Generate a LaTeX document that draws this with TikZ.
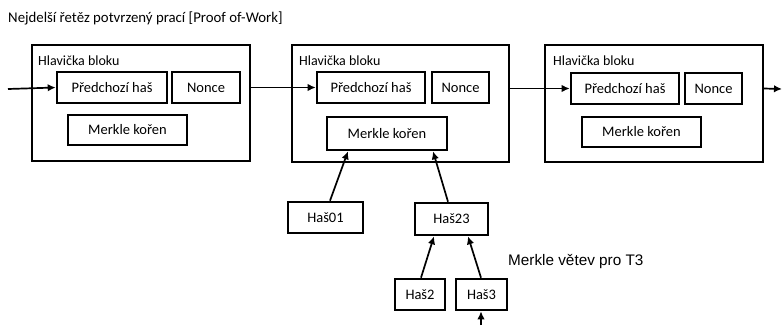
\documentclass[tikz,border=0pt]{standalone}
\usepackage{fontspec}
\setmainfont{Carlito}
\newfontfamily\arialf{Liberation Sans}
\usetikzlibrary{arrows.meta}
\begin{document}
\begin{tikzpicture}[x=1pt,y=-1pt,
  outer/.style={draw, line width=2pt, inner sep=0pt},
  inbox/.style={draw, line width=2.6pt, inner sep=0pt, minimum height=31pt, font=\fontsize{14.5}{17}\selectfont},
  lbl/.style={anchor=west, inner sep=0pt, font=\fontsize{14}{16}\selectfont},
  arr/.style={line width=1.7pt, -{Latex[length=8pt,width=7.5pt]}},
  conn/.style={line width=1.7pt},
]
\useasboundingbox (0,0) rectangle (782,325);

\node[lbl, font=\fontsize{14.8}{17}\selectfont] (title) at (8,18) {Nejdelší řetěz potvrzený prací [Proof of-Work]};

% block 1
\node[outer, minimum width=218pt, minimum height=116pt] (b1) at (141,103) {};
\node[lbl] (l1) at (38,61) {Hlavička bloku};
\node[inbox, minimum width=110pt] (p1) at (112,87.5) {Předchozí haš};
\node[inbox, minimum width=68pt] (n1) at (206,87.5) {Nonce};
\node[inbox, minimum width=119pt, minimum height=30pt] (m1) at (127.5,130) {Merkle kořen};

% block 2
\node[outer, minimum width=217pt, minimum height=117pt] (b2) at (400.5,103.5) {};
\node[lbl] (l2) at (299,61) {Hlavička bloku};
\node[inbox, minimum width=108pt] (p2) at (371,87.5) {Předchozí haš};
\node[inbox, minimum width=57pt] (n2) at (460.5,87.5) {Nonce};
\node[inbox, minimum width=120pt, minimum height=33pt] (m2) at (387,133.5) {Merkle kořen};

% block 3
\node[outer, minimum width=218pt, minimum height=117pt] (b3) at (654,103.5) {};
\node[lbl] (l3) at (553,61) {Hlavička bloku};
\node[inbox, minimum width=108pt] (p3) at (625,88.5) {Předchozí haš};
\node[inbox, minimum width=57pt] (n3) at (713.5,88.5) {Nonce};
\node[inbox, minimum width=119pt, minimum height=30pt] (m3) at (641.5,132) {Merkle kořen};

% merkle branch
\node[inbox, minimum width=75pt] (h01) at (325.5,217.5) {Haš01};
\node[inbox, minimum width=73pt, minimum height=32pt] (h23) at (451.5,219) {Haš23};
\node[inbox, minimum width=50pt] (h2) at (420,294.5) {Haš2};
\node[inbox, minimum width=51pt] (h3) at (481.5,294.5) {Haš3};
\node[anchor=west, inner sep=0pt, font=\arialf\fontsize{15.3}{18}\selectfont] (mv) at (508,262) {Merkle větev pro T3};

% chain connectors
\coordinate (cin) at (8,89);
\coordinate (cout) at (782,89);
\coordinate (cbot) at (481,325);
\draw[arr] (cin) -- (p1.west);
\draw[conn] (b1.east |- p2.west) -- (b2.west |- p2.west);
\draw[arr] (b2.west |- p2.west) -- (p2.west);
\draw[conn] (b2.east |- p3.west) -- (b3.west |- p3.west);
\draw[arr] (b3.west |- p3.west) -- (p3.west);
\draw[arr] (b3.east |- p3.west) -- (cout);

% tree connectors
\draw[arr] ([xshift=4.5pt]h01.north) -- ([xshift=-39pt]m2.south);
\draw[arr] ([xshift=-3.5pt]h23.north) -- ([xshift=46pt]m2.south);
\draw[arr] ([xshift=1pt]h2.north) -- ([xshift=-17.5pt]h23.south);
\draw[arr] ([xshift=-0.5pt]h3.north) -- ([xshift=16.5pt]h23.south);
\draw[arr] (cbot) -- ([xshift=-0.5pt]h3.south);
\end{tikzpicture}
\end{document}
